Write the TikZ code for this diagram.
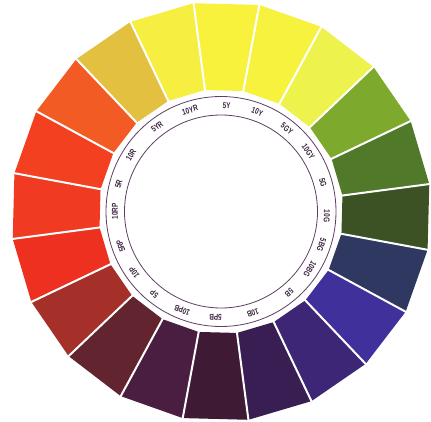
\documentclass[tikz,border=0pt]{standalone}
\usepackage{fontspec}
\setmainfont{Liberation Sans}
\definecolor{s0}{HTML}{F8F23C}
\definecolor{s1}{HTML}{F6F23E}
\definecolor{s2}{HTML}{EEF24C}
\definecolor{s3}{HTML}{7DAA2C}
\definecolor{s4}{HTML}{507A2A}
\definecolor{s5}{HTML}{3C5224}
\definecolor{s6}{HTML}{2E3860}
\definecolor{s7}{HTML}{40309C}
\definecolor{s8}{HTML}{3E2676}
\definecolor{s9}{HTML}{381E52}
\definecolor{s10}{HTML}{3E1A34}
\definecolor{s11}{HTML}{4A1E40}
\definecolor{s12}{HTML}{62242E}
\definecolor{s13}{HTML}{A5302A}
\definecolor{s14}{HTML}{EE3020}
\definecolor{s15}{HTML}{F03A22}
\definecolor{s16}{HTML}{F24020}
\definecolor{s17}{HTML}{F25C24}
\definecolor{s18}{HTML}{E4C040}
\definecolor{s19}{HTML}{F6EE40}
\definecolor{ringcol}{HTML}{5E3E62}
\definecolor{lblcol}{HTML}{3C2440}
\begin{document}
\begin{tikzpicture}[x=1pt,y=1pt,
  gap/.style={draw=white, line width=2pt},
  ringline/.style={draw=ringcol, line width=0.8pt},
  lbl/.style={text=lblcol, font=\fontsize{8.5}{8.5}\selectfont\bfseries, inner sep=0pt}]
\useasboundingbox[fill=white] (0,0) rectangle (431,421);
\begin{scope}[shift={(221,209.5)}]
\foreach \k/\col in {0/s0,1/s1,2/s2,3/s3,4/s4,5/s5,6/s6,7/s7,8/s8,9/s9,10/s10,11/s11,12/s12,13/s13,14/s14,15/s15,16/s16,17/s17,18/s18,19/s19} {
  \pgfmathsetmacro{\b}{90-18*\k-1.5-9}
  \pgfmathsetmacro{\c}{90-18*\k-1.5+9}
  \fill[\col] (\b:122.5pt) -- (\b:210.1pt) -- (\c:210.1pt) -- (\c:122.5pt) -- cycle;
}
\foreach \k in {0,...,19} {
  \pgfmathsetmacro{\c}{90-18*\k-1.5+9}
  \draw[gap] (\c:119pt) -- (\c:213pt);
}
\draw[ringline] (0,0) circle (115pt);
\draw[ringline] (0,0) circle (96.5pt);
\foreach \k/\txt/\la in {0/5Y/87,1/10Y/70,2/5GY/51.5,3/10GY/34.5,4/5G/16,5/10G/-2.5,6/5BG/-18.5,7/10BG/-33,8/5B/-50,9/10B/-72.5,10/5PB/-93,11/10PB/-111.5,12/5P/-129,13/10P/-145,14/5RP/-161,15/10RP/180,16/5R/165,17/10R/148,18/5YR/127,19/10YR/107} {
  \pgfmathsetmacro{\r}{\la-90}
  \node[lbl, rotate=\r] (l\k) at (\la:106pt) {\scalebox{0.75}[1]{\txt}};
}
\end{scope}
\end{tikzpicture}
\end{document}
